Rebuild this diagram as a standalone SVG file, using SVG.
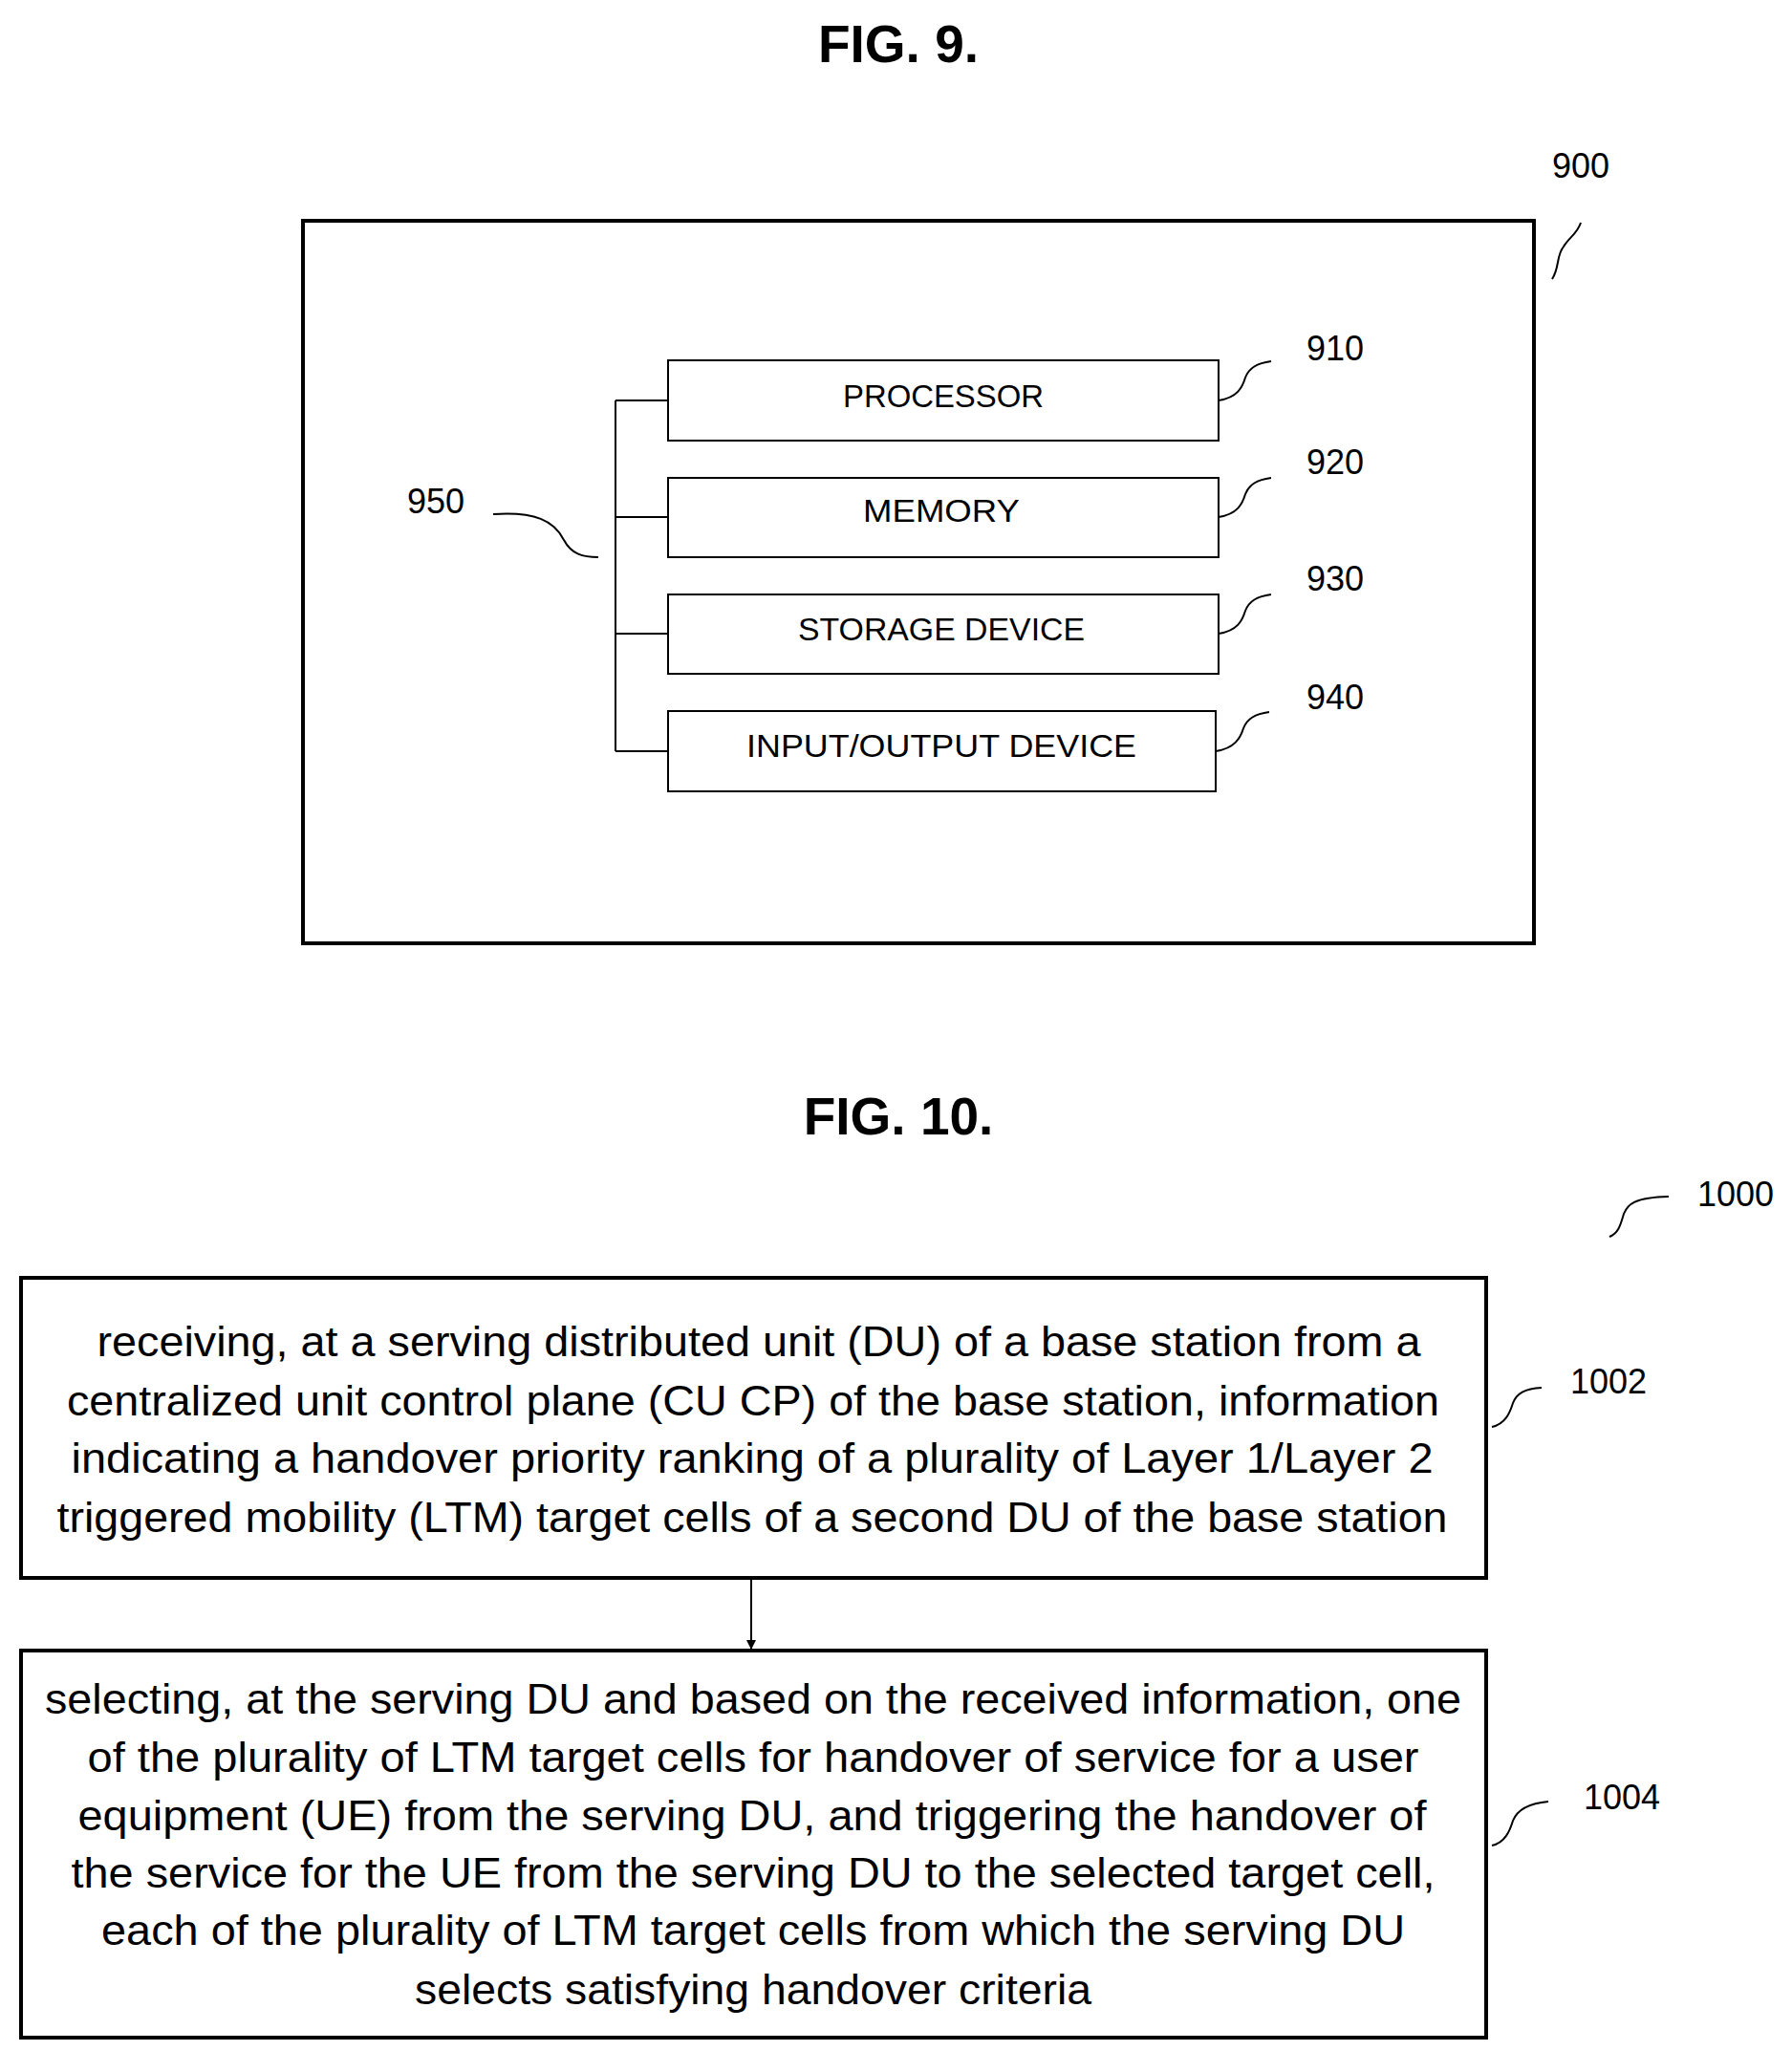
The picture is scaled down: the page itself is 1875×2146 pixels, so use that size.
<svg xmlns="http://www.w3.org/2000/svg" width="1875" height="2146" viewBox="0 0 1875 2146">
<style>
text{font-family:"Liberation Sans","DejaVu Sans",sans-serif;fill:#000}
.t{font-size:55px;font-weight:bold;text-anchor:middle}
.r{font-size:36px;text-anchor:middle}
.b{font-size:33px;text-anchor:middle}
.s{font-size:44px;text-anchor:middle}
.box{fill:#fff;stroke:#000;stroke-width:2}
.big{fill:#fff;stroke:#000;stroke-width:4}
.ln{fill:none;stroke:#000;stroke-width:2}
</style>
<defs><marker id="ah" markerWidth="10" markerHeight="10" refX="9" refY="5" orient="auto" markerUnits="userSpaceOnUse"><path d="M0,0 L10,5 L0,10 z" fill="#000"/></marker></defs>
<text class="t" x="940" y="65">FIG. 9.</text>
<g id="n900"><rect class="big" x="317" y="231" width="1288" height="756"/><text class="r" x="1654" y="186">900</text></g>
<g id="n910"><rect class="box" x="699" y="377" width="576" height="84"/><text class="b" x="987" y="426" textLength="210" lengthAdjust="spacingAndGlyphs">PROCESSOR</text><text class="r" x="1397" y="377">910</text></g>
<g id="n920"><rect class="box" x="699" y="500" width="576" height="83"/><text class="b" x="985" y="546" textLength="164" lengthAdjust="spacingAndGlyphs">MEMORY</text><text class="r" x="1397" y="496">920</text></g>
<g id="n930"><rect class="box" x="699" y="622" width="576" height="83"/><text class="b" x="985" y="670" textLength="300" lengthAdjust="spacingAndGlyphs">STORAGE DEVICE</text><text class="r" x="1397" y="618">930</text></g>
<g id="n940"><rect class="box" x="699" y="744" width="573" height="84"/><text class="b" x="985" y="792" textLength="408" lengthAdjust="spacingAndGlyphs">INPUT/OUTPUT DEVICE</text><text class="r" x="1397" y="742">940</text></g>
<g id="n950"><text class="r" x="456" y="537">950</text></g>
<text class="t" x="940" y="1187">FIG. 10.</text>
<g id="n1000"><text class="r" x="1816" y="1262">1000</text></g>
<g id="n1002"><rect class="big" x="22" y="1337" width="1533" height="314"/>
<text class="s" x="794" y="1419" textLength="1385" lengthAdjust="spacingAndGlyphs">receiving, at a serving distributed unit (DU) of a base station from a</text>
<text class="s" x="788" y="1481" textLength="1436" lengthAdjust="spacingAndGlyphs">centralized unit control plane (CU CP) of the base station, information</text>
<text class="s" x="787" y="1541" textLength="1425" lengthAdjust="spacingAndGlyphs">indicating a handover priority ranking of a plurality of Layer 1/Layer 2</text>
<text class="s" x="787" y="1603" textLength="1455" lengthAdjust="spacingAndGlyphs">triggered mobility (LTM) target cells of a second DU of the base station</text>
<text class="r" x="1683" y="1458">1002</text></g>
<g id="n1004"><rect class="big" x="22" y="1727" width="1533" height="405"/>
<text class="s" x="788" y="1793" textLength="1482" lengthAdjust="spacingAndGlyphs">selecting, at the serving DU and based on the received information, one</text>
<text class="s" x="788" y="1854" textLength="1393" lengthAdjust="spacingAndGlyphs">of the plurality of LTM target cells for handover of service for a user</text>
<text class="s" x="787" y="1915" textLength="1411" lengthAdjust="spacingAndGlyphs">equipment (UE) from the serving DU, and triggering the handover of</text>
<text class="s" x="788" y="1975" textLength="1427" lengthAdjust="spacingAndGlyphs">the service for the UE from the serving DU to the selected target cell,</text>
<text class="s" x="788" y="2035" textLength="1364" lengthAdjust="spacingAndGlyphs">each of the plurality of LTM target cells from which the serving DU</text>
<text class="s" x="788" y="2097" textLength="708" lengthAdjust="spacingAndGlyphs">selects satisfying handover criteria</text>
<text class="r" x="1697" y="1893">1004</text></g>
<g id="connectors">
<path class="ln" d="M644,419 V786 M644,419 H699 M644,541 H699 M644,663 H699 M644,786 H699"/>
<path class="ln" d="M516,538 C560,535 580,545 590,565 C598,580 610,583 626,583"/>
<path class="ln" d="M1624,292 C1632,280 1628,268 1636,258 C1642,248 1650,245 1654,233"/>
<path class="ln" d="M1275,419 C1295,416 1300,405 1303,395 C1307,385 1315,380 1330,378"/>
<path class="ln" d="M1275,541 C1295,538 1300,527 1303,517 C1307,507 1315,502 1330,500"/>
<path class="ln" d="M1275,663 C1295,660 1300,649 1303,639 C1307,629 1315,624 1330,622"/>
<path class="ln" d="M1272,786 C1292,783 1298,772 1301,762 C1305,752 1313,747 1328,745"/>
<path class="ln" d="M1684,1294 C1694,1290 1696,1280 1699,1270 C1703,1260 1710,1253 1746,1252"/>
<path class="ln" d="M1561,1493 C1575,1490 1580,1478 1583,1468 C1587,1458 1595,1453 1613,1452"/>
<path class="ln" d="M1561,1931 C1575,1928 1580,1915 1583,1905 C1587,1895 1598,1887 1620,1885"/>
<path class="ln" d="M786,1653 V1725" marker-end="url(#ah)"/>
</g>
</svg>
